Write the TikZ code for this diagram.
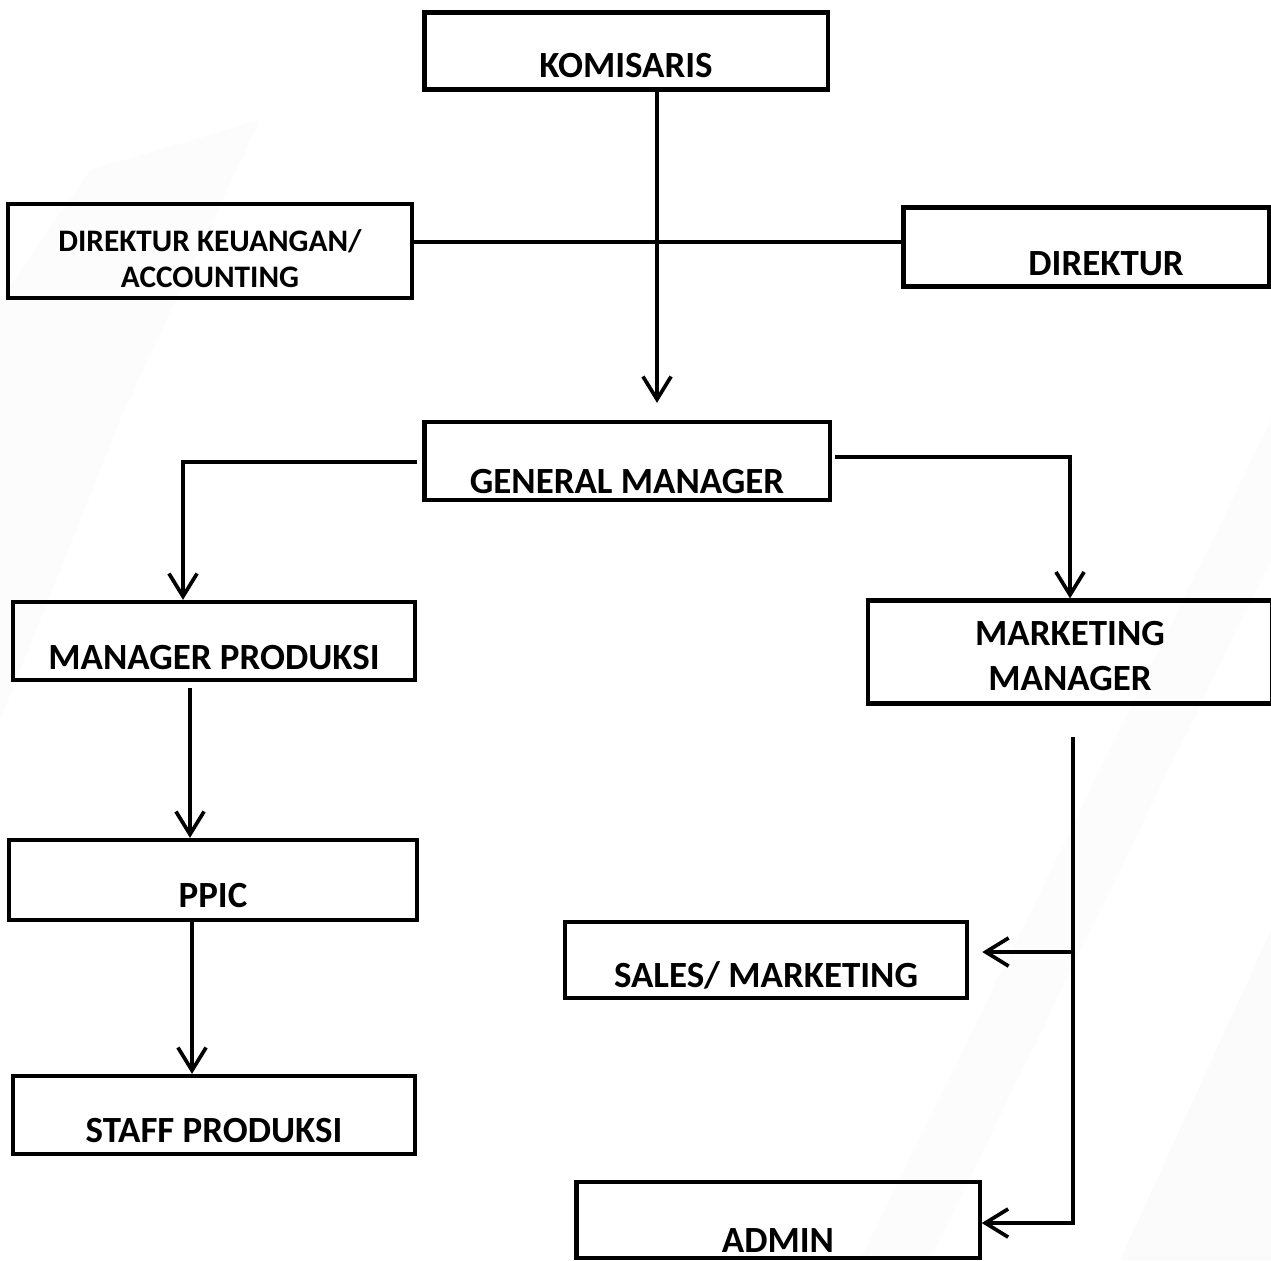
\documentclass[tikz,border=0pt]{standalone}
\usepackage{fontspec}
\setmainfont{Carlito}
\usetikzlibrary{arrows.meta}
\begin{document}
\begin{tikzpicture}[x=0.01cm, y=-0.01cm,
  every node/.style={draw, line width=1.2pt, inner sep=0pt, align=center, font=\bfseries\fontsize{10.5}{12.8}\selectfont},
  link/.style={line width=1.05pt, -{Straight Barb[length=6.5pt, width=8pt, line cap=butt]}},
  plain/.style={line width=1.05pt}]
\useasboundingbox (0,0) rectangle (1271,1260);
% faint background streaks
\fill[black!1.5] (1120,1260) -- (1271,930) -- (1271,1260) -- cycle;
\fill[black!1] (860,1260) -- (1271,420) -- (1271,560) -- (930,1260) -- cycle;
\fill[black!1] (0,300) -- (90,170) -- (260,120) -- (120,420) -- (0,720) -- cycle;

\node[minimum width=4.03cm, text height=0.65cm, text depth=0.12cm] (kom) at (626,51) {KOMISARIS};
\node[minimum width=4.04cm, text height=0.83cm, text depth=0.11cm, font=\bfseries\fontsize{8.9}{10.2}\selectfont] (dk) at (210,251) {DIREKTUR KEUANGAN/\\ACCOUNTING};
\node[minimum width=3.65cm, text height=0.68cm, text depth=0.11cm] (dir) at (1086,247) {\hspace*{0.4cm}DIREKTUR};
\node[minimum width=4.05cm, text height=0.71cm, text depth=0.07cm] (gm) at (627,461) {GENERAL MANAGER};
\node[minimum width=4.02cm, text height=0.67cm, text depth=0.11cm] (mp) at (214,641) {MANAGER PRODUKSI};
\node[minimum width=4.04cm, text height=0.90cm, text depth=0.13cm] (mm) at (1070,652) {MARKETING\\MANAGER};
\node[minimum width=4.07cm, text height=0.67cm, text depth=0.13cm] (ppic) at (213,880) {PPIC};
\node[minimum width=4.02cm, text height=0.66cm, text depth=0.12cm] (sp) at (214,1115) {STAFF PRODUKSI};
\node[minimum width=4.02cm, text height=0.65cm, text depth=0.11cm] (sm) at (766,960) {SALES/ MARKETING};
\node[minimum width=4.03cm, text height=0.70cm, text depth=0.06cm] (adm) at (778,1220) {ADMIN};

\coordinate (hub) at (657,242);
\coordinate (left) at (183,462);
\coordinate (right) at (1070,457);
\coordinate (mline) at (190,0);
\coordinate (pline) at (192,0);
\coordinate (bus) at (1073,737);
\coordinate (s1) at (1073,952);
\coordinate (a1) at (1073,1223);

\draw[link, shorten >=0.17cm] (kom.south -| hub) -- (gm.north -| hub);
\draw[plain] (dk.east |- hub) -- (dir.west |- hub);
\draw[link, shorten <=0.05cm] (gm.west |- left) -| (mp.north -| left);
\draw[link, shorten <=0.03cm] (gm.east |- right) -| (mm.north -| right);
\draw[link, shorten <=0.06cm] (mp.south -| mline) -- (ppic.north -| mline);
\draw[link] (ppic.south -| pline) -- (sp.north -| pline);
\draw[plain] (bus) -- (1073,1225);
\draw[link, shorten >=0.13cm] (s1) -- (sm.east |- s1);
\draw[link] (a1) -- (adm.east |- a1);
\end{tikzpicture}
\end{document}
